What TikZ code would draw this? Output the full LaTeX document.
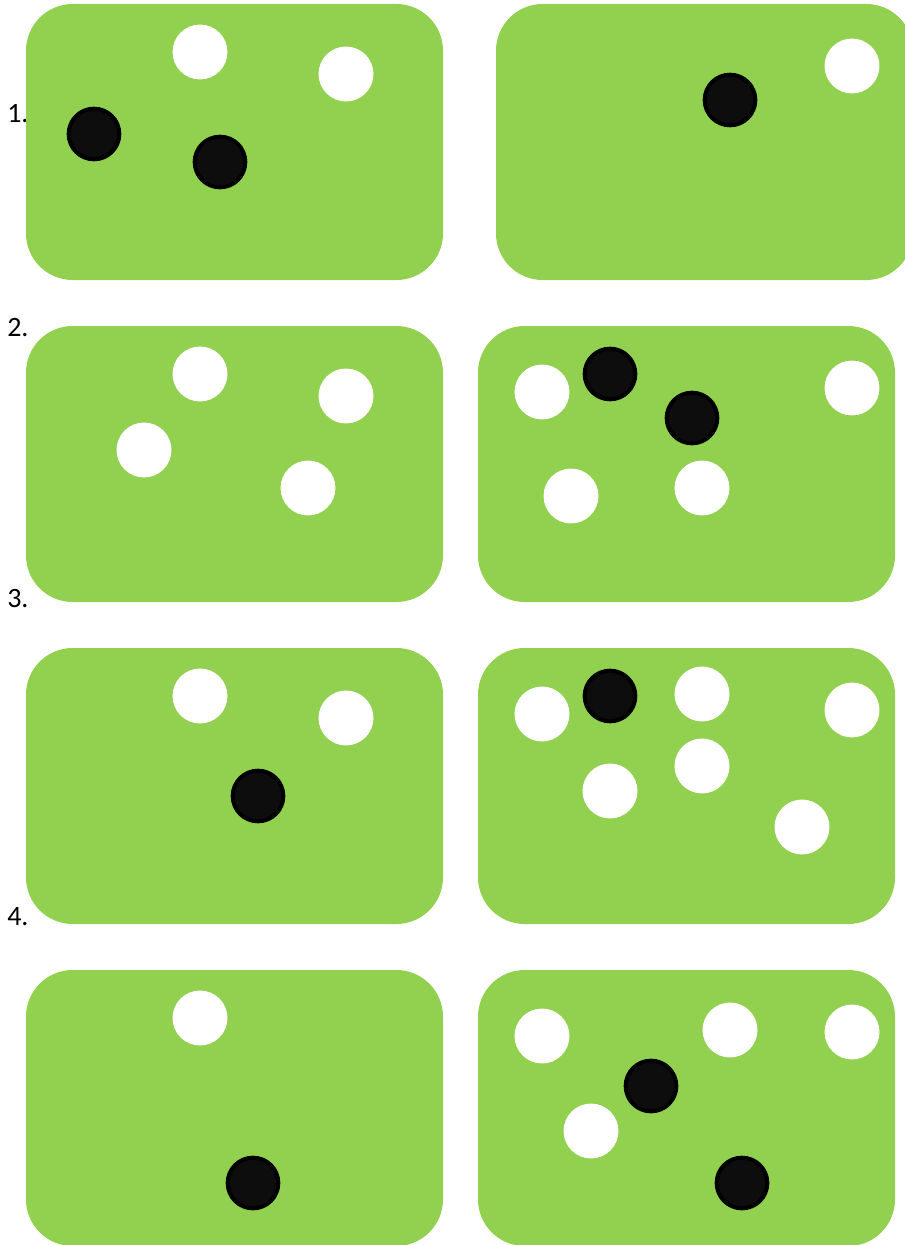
\documentclass[tikz,border=0pt]{standalone}
\usepackage{fontspec}
\setmainfont{Carlito}
\definecolor{cardgreen}{RGB}{146,208,80}
\definecolor{dotblack}{RGB}{13,13,13}
\newcommand{\card}[2]{
\fill[cardgreen, rounded corners=35pt] (#1,#2) rectangle ++(417,276);
}
\newcommand{\whitedot}[2]{
\fill[white] (#1,#2) circle (20.6pt);
}
\newcommand{\blackdot}[2]{
\draw[line width=3pt, fill=dotblack] (#1,#2) circle (19pt);
}

\begin{document}
\begin{tikzpicture}[x=0.75pt, y=-0.75pt,
    numlabel/.style={anchor=west, inner sep=0pt, font=\fontsize{21}{25}\selectfont}]
    \useasboundingbox (0,0) rectangle (905,1245);
    \clip (0,0) rectangle (905,1245);
    % row labels
    \node[numlabel] (lab1) at (7,114) {1.};
    \node[numlabel] (lab2) at (7,328) {2.};
    \node[numlabel] (lab3) at (7,599) {3.};
    \node[numlabel] (lab4) at (7,917) {4.};
    % cards
    \card{26}{4} \card{496}{4}
    \card{26}{326} \card{478}{326}
    \card{26}{648} \card{478}{648}
    \card{26}{970} \card{478}{970}
    % row 1
    \whitedot{200}{52} \whitedot{346}{74}
    \blackdot{94}{134} \blackdot{220}{162}
    \blackdot{730}{100} \whitedot{852}{66}
    % row 2
    \whitedot{200}{374} \whitedot{346}{396} \whitedot{144}{450} \whitedot{308}{488}
    \whitedot{542}{392} \blackdot{610}{374} \blackdot{692}{418}
    \whitedot{852}{388} \whitedot{571}{496} \whitedot{702}{488}
    % row 3
    \whitedot{200}{696} \whitedot{346}{718} \blackdot{258}{796}
    \whitedot{542}{714} \blackdot{610}{696} \whitedot{702}{694} \whitedot{852}{710}
    \whitedot{702}{766} \whitedot{610}{791} \whitedot{802}{827}
    % row 4
    \whitedot{200}{1018} \blackdot{253}{1183}
    \whitedot{542}{1036} \whitedot{730}{1030} \whitedot{852}{1032}
    \blackdot{651}{1086} \whitedot{591}{1131} \blackdot{742}{1183}
\end{tikzpicture}
\end{document}
